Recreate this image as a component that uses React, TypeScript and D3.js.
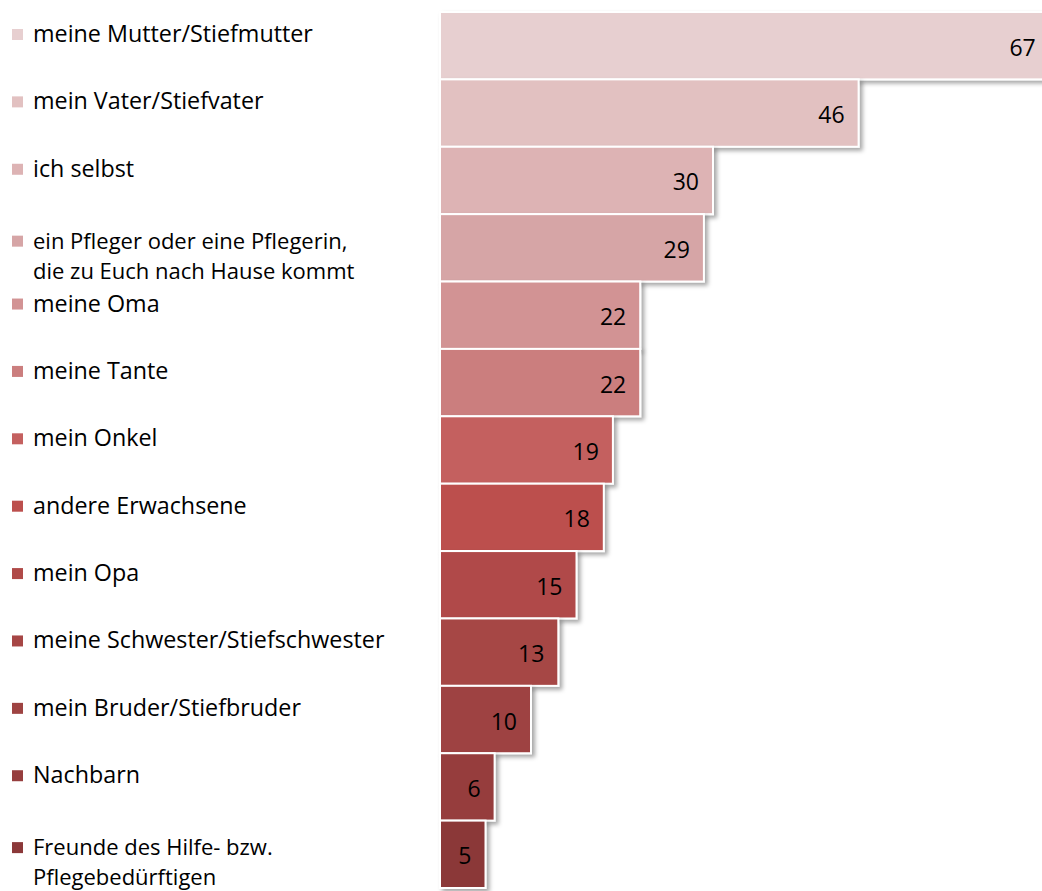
import React from "react";
import * as d3 from "d3";

const categories = [
  "meine Mutter/Stiefmutter",
  "mein Vater/Stiefvater",
  "ich selbst",
  "ein Pfleger oder eine Pflegerin,\ndie zu Euch nach Hause kommt",
  "meine Oma",
  "meine Tante",
  "mein Onkel",
  "andere Erwachsene",
  "mein Opa",
  "meine Schwester/Stiefschwester",
  "mein Bruder/Stiefbruder",
  "Nachbarn",
  "Freunde des Hilfe- bzw.\nPflegebedürftigen",
];
const values = [67, 46, 30, 29, 22, 22, 19, 18, 15, 13, 10, 6, 5];
const colors = [
  "#E7CFD0", "#E2C1C1", "#DDB3B4", "#D6A5A6", "#D29394", "#CB7E7E",
  "#C4605F", "#BC4F4D", "#B04A48", "#A64645", "#9E4342", "#963E3E", "#8B3839",
];

const W = 1042;
const H = 891;
const FONT = "'Open Sans', 'Noto Sans', sans-serif";

export default function App() {
  const x = d3.scaleLinear().domain([0, 100]).range([440, 440 + 910]);
  const y = d3.scaleBand<number>().domain(d3.range(categories.length)).range([12, 888]).padding(0);
  const bh = y.bandwidth();
  return (
    <svg width={W} height={H} style={{ position: "absolute", left: 0, top: 0, background: "#fff" }}>
      <defs>
        <filter id="sh" x="-10%" y="-10%" width="130%" height="140%">
          <feDropShadow dx="3" dy="3" stdDeviation="2" floodColor="#000" floodOpacity="0.35" />
        </filter>
      </defs>
      {values.map((v, i) => {
        const y0 = y(i)!;
        return (
          <g key={i}>
            <rect x={x(0)} y={y0} width={x(v) - x(0)} height={bh} fill={colors[i]} stroke="#fff" strokeWidth={2} filter="url(#sh)" />
          </g>
        );
      })}
      {values.map((v, i) => {
        const y0 = y(i)!;
        return (
          <text key={"v" + i} x={x(v) - 14} y={y0 + bh / 2 + 10} textAnchor="end" fontFamily={FONT} fontSize={23} fill="#000">
            {v}
          </text>
        );
      })}
      {categories.map((c, i) => {
        const lines = c.split("\n");
        const y0 = y(i)!;
        const multi = lines.length > 1;
        const base = multi ? y0 + 34.5 : y0 + 30;
        const fs = multi ? 22 : 23.3;
        return (
          <g key={"l" + i}>
            <rect x={12} y={base - 13} width={11} height={11} fill={colors[i]} />
            {lines.map((ln, j) => (
              <text key={j} x={33} y={base + j * 30} fontFamily={FONT} fontSize={fs} fill="#000">
                {ln}
              </text>
            ))}
          </g>
        );
      })}
    </svg>
  );
}
